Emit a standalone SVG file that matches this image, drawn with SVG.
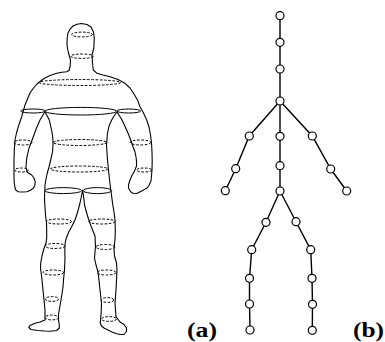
<svg xmlns="http://www.w3.org/2000/svg" width="385" height="342" viewBox="0 0 385 342">
  <style>
    .outline { fill: none; stroke: #000; stroke-width: 1.1; stroke-linejoin: round; stroke-linecap: round; }
    .ring { fill: none; stroke: #000; stroke-width: 1; }
    .dash { fill: none; stroke: #000; stroke-width: 1; stroke-dasharray: 2.6 1.6; }
    .bone { stroke: #000; stroke-width: 1.4; fill: none; }
    .joint { fill: #fff; stroke: #000; stroke-width: 1.2; }
    .label { font-family: "Liberation Serif", "Times New Roman", serif; font-weight: bold; font-size: 20px; fill: #000; }
  </style>

  <!-- (a) body surface -->
  <g id="body">
    <path class="outline" d="M81.5,23.5 L87,24.5 L91,27 L93.5,32 L94.3,38 L93.8,48 L92,55 L92.5,63 L93.3,70
      L97,73.3 L103,75 L110,76.7 L118,79.5 L125,83.3 L130,88 L134,94 L137.5,100 L140,106.7
      L143.5,113 L146.7,120 L149,127 L150.5,135 L151.5,143 L152,152 L152.2,161 L152,170 L151,181
      L149,185.5 L146.7,188.3 L141.7,191 L136.7,193.5 L133,193.2 L130.7,191.7 L128.5,188 L128.5,185 L130,180 L131.7,176
      L134.5,171 L136.5,166 L136.5,161 L136,157 L135,152 L133,146.7 L130,138 L126.7,130 L122,120 L117,112
      L114,116 L111.7,120 L109,126 L107.5,133 L106.5,145 L107,153 L107.5,160 L109,175 L110.5,188
      L111.5,195 L112.5,203 L114,212 L115,220 L115.3,230 L115,240 L114,248 L114.5,256 L116.5,263 L117,270 L116.5,280 L116,290 L115,303 L115.5,310 L116,316.7
      L120,322 L124,324.5 L126.5,328 L126.5,331.5 L124,334.5 L120,334.5 L116,333.5 L112,332 L108,330 L104,328 L101.5,326 L100.2,323 L100.5,320
      L101.2,312 L101.5,303 L100,290 L99,280 L98,272 L96,265 L94.5,258 L95,252 L95.5,246 L95,236 L91,226 L88.5,219 L86.7,213 L84.5,205 L84,200 L82.7,190
      L81.5,196 L80,203 L79,207 L77,214 L75,220 L71.5,227 L68.3,233 L66,239 L65,244 L64.8,251 L65,258 L64.5,270 L63.5,280 L63,287 L61.5,297 L60,306 L58.5,314 L58.5,320
      L59.3,325 L59.3,328 L56.7,330.5 L50,331.2 L45,331 L38,330.5 L31,329.5 L28.8,327.5 L30,325.5 L35,323.3 L40,322 L45,320
      L45,310 L44,300 L43.3,293 L41.7,277 L40.5,268 L40.7,263 L42,256 L43.5,250 L46,243 L46.7,238 L46.7,230 L46.5,223 L45.5,215 L45,207 L44.5,200 L44.6,195
      L45,185 L46,179 L47.3,173 L49,167 L50.7,160 L52.5,152 L53,145 L52.8,138 L52,132 L49.3,120 L45,111.7
      L40,120 L36.5,128 L33.3,136.7 L29,148 L26.7,158.3 L26,167 L27,172
      L31.7,175 L34,178 L35.2,181.7 L34.8,185.5 L33.3,188.3 L30,190.5 L26.7,191.7 L22,192 L18.3,191.7 L15.8,190 L15,188 L14.2,182 L14,177
      L14,168 L14,160 L14.3,150 L15,140 L16.5,133 L18.3,126.7 L21.7,116.7 L25,105 L27.5,99 L30,93
      L33.5,88 L37,84 L41,80.8 L45,78 L50,75.5 L56.7,73.3 L62,72.3 L66.7,71.7 L69.2,70.2 L70.2,66 L70.5,60
      L69.5,56.5 L68.5,53 L67.5,48.5 L67,44 L67.2,38 L68,33 L70,29.2 L73,26 L77,24.2 Z"/>

    <!-- solid section rings at the shoulder and hip joints -->
    <ellipse class="ring" cx="80.8" cy="111.2" rx="35.8" ry="3.8"/>
    <ellipse class="ring" cx="33" cy="111" rx="12.3" ry="2"/>
    <ellipse class="ring" cx="128.8" cy="111" rx="11.8" ry="2"/>
    <ellipse class="ring" cx="63.3" cy="190.6" rx="18.4" ry="3"/>
    <ellipse class="ring" cx="97.4" cy="190.6" rx="14.3" ry="3"/>

    <!-- dashed cross-section rings -->
    <ellipse class="dash" cx="82" cy="34.5" rx="10.3" ry="2.4"/>
    <ellipse class="dash" cx="82" cy="56.2" rx="11.3" ry="2.2"/>
    <ellipse class="dash" cx="80" cy="82.5" rx="40.7" ry="3"/>
    <ellipse class="dash" cx="80" cy="142.5" rx="26.8" ry="3"/>
    <ellipse class="dash" cx="79.2" cy="169" rx="29" ry="3"/>
    <ellipse class="dash" cx="23" cy="142.5" rx="9" ry="2.5"/>
    <ellipse class="dash" cx="140.5" cy="142.5" rx="10.3" ry="2.5"/>
    <ellipse class="dash" cx="21.5" cy="170" rx="6.9" ry="2"/>
    <ellipse class="dash" cx="144.2" cy="170" rx="7.6" ry="2"/>
    <ellipse class="dash" cx="59" cy="221.5" rx="12.6" ry="2.5"/>
    <ellipse class="dash" cx="101.7" cy="221.5" rx="13.3" ry="2.5"/>
    <ellipse class="dash" cx="55" cy="246" rx="10" ry="2.5"/>
    <ellipse class="dash" cx="105.5" cy="247" rx="9.5" ry="2.5"/>
    <ellipse class="dash" cx="53.3" cy="272.5" rx="10.3" ry="2.5"/>
    <ellipse class="dash" cx="106.5" cy="272.5" rx="9.5" ry="2.5"/>
    <ellipse class="dash" cx="52" cy="299" rx="6.6" ry="2.4"/>
    <ellipse class="dash" cx="107.5" cy="300" rx="6.3" ry="2.4"/>
    <ellipse class="dash" cx="51.7" cy="317.5" rx="6.8" ry="2.4"/>
    <ellipse class="dash" cx="109" cy="319" rx="7.5" ry="2.4"/>
  </g>

  <!-- (b) skeleton: bones -->
  <g id="connectors">
    <polyline class="bone" points="280,15.7 280,42.3 280,69 280,101 280,136.3 280,165.7 280,191"/>
    <polyline class="bone" points="280,101 249.3,136 235.7,168.7 225.3,190.7"/>
    <polyline class="bone" points="280,101 312.3,136 330.7,169 346.7,191"/>
    <polyline class="bone" points="280,191 266,222.3 251.7,249.7 249.5,278.3 249.5,304 250,330"/>
    <polyline class="bone" points="280,191 296,221.7 310.7,249.7 312,278.3 312.5,304.3 312.3,330.3"/>
  </g>

  <!-- (b) skeleton: joints -->
  <g id="joint-head"><circle class="joint" cx="280" cy="15.7" r="4"/></g>
  <g id="joint-neck-upper"><circle class="joint" cx="280" cy="42.3" r="4"/></g>
  <g id="joint-neck-lower"><circle class="joint" cx="280" cy="69" r="4"/></g>
  <g id="joint-thorax"><circle class="joint" cx="280" cy="101" r="4"/></g>
  <g id="joint-l-shoulder"><circle class="joint" cx="249.3" cy="136" r="4"/></g>
  <g id="joint-spine-upper"><circle class="joint" cx="280" cy="136.3" r="4"/></g>
  <g id="joint-r-shoulder"><circle class="joint" cx="312.3" cy="136" r="4"/></g>
  <g id="joint-l-elbow"><circle class="joint" cx="235.7" cy="168.7" r="4"/></g>
  <g id="joint-spine-lower"><circle class="joint" cx="280" cy="165.7" r="4"/></g>
  <g id="joint-r-elbow"><circle class="joint" cx="330.7" cy="169" r="4"/></g>
  <g id="joint-l-hand"><circle class="joint" cx="225.3" cy="190.7" r="4"/></g>
  <g id="joint-pelvis"><circle class="joint" cx="280" cy="191" r="4"/></g>
  <g id="joint-r-hand"><circle class="joint" cx="346.7" cy="191" r="4"/></g>
  <g id="joint-l-hip"><circle class="joint" cx="266" cy="222.3" r="4"/></g>
  <g id="joint-r-hip"><circle class="joint" cx="296" cy="221.7" r="4"/></g>
  <g id="joint-l-knee"><circle class="joint" cx="251.7" cy="249.7" r="4"/></g>
  <g id="joint-r-knee"><circle class="joint" cx="310.7" cy="249.7" r="4"/></g>
  <g id="joint-l-shin"><circle class="joint" cx="249.5" cy="278.3" r="4"/></g>
  <g id="joint-r-shin"><circle class="joint" cx="312" cy="278.3" r="4"/></g>
  <g id="joint-l-ankle"><circle class="joint" cx="249.5" cy="304" r="4"/></g>
  <g id="joint-r-ankle"><circle class="joint" cx="312.5" cy="304.3" r="4"/></g>
  <g id="joint-l-foot"><circle class="joint" cx="250" cy="330" r="4"/></g>
  <g id="joint-r-foot"><circle class="joint" cx="312.3" cy="330.3" r="4"/></g>

  <!-- panel labels -->
  <text class="label" x="187" y="337" textLength="30" lengthAdjust="spacingAndGlyphs">(a)</text>
  <text class="label" x="353" y="337" textLength="31" lengthAdjust="spacingAndGlyphs">(b)</text>
</svg>
